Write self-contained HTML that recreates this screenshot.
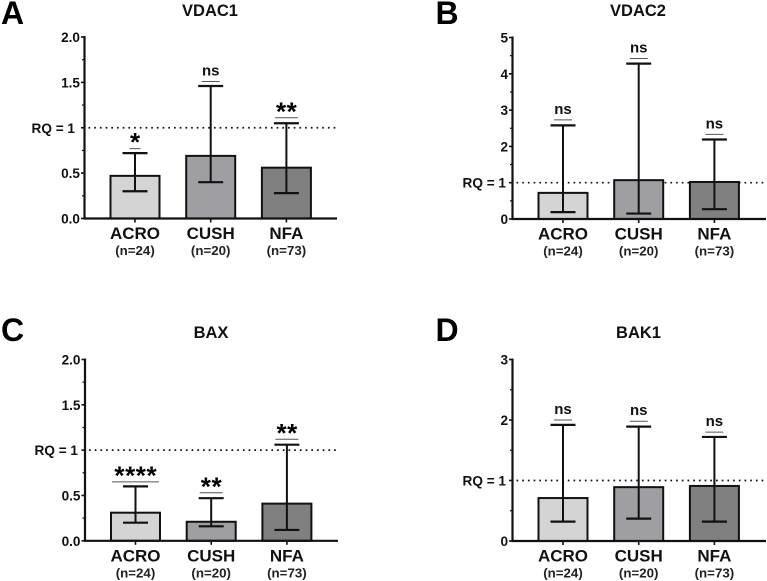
<!DOCTYPE html>
<html lang="en">
<head>
<meta charset="utf-8">
<title>VDAC1, VDAC2, BAX and BAK1 expression</title>
<style>
html,body{margin:0;padding:0;background:#fff;width:767px;height:581px;overflow:hidden}
svg{display:block}
text{font-family:"Liberation Sans",Arial,sans-serif;font-weight:bold;fill:#111}
</style>
</head>
<body>
<svg id="figure" width="767" height="581" viewBox="0 0 767 581" xmlns="http://www.w3.org/2000/svg"></svg>
<script>
const categories = ['ACRO', 'CUSH', 'NFA'];
const sampleSizes = ['(n=24)', '(n=20)', '(n=73)'];

const panelLetters = ['A', 'B', 'C', 'D'];
const panelTitles = ['VDAC1', 'VDAC2', 'BAX', 'BAK1'];

const vdac1Means = [0.47, 0.69, 0.56];
const vdac1Upper = [0.72, 1.46, 1.05];
const vdac1Lower = [0.30, 0.40, 0.28];
const vdac1SigLevel = [0.77, 1.51, 1.11];
const vdac1SigLabels = ['*', 'ns', '**'];
const vdac1TickLabels = ['0.0', '0.5', 'RQ = 1', '1.5', '2.0'];
const vdac1TickValues = [0, 0.5, 1, 1.5, 2];

const vdac2Means = [0.72, 1.07, 1.02];
const vdac2Upper = [2.58, 4.28, 2.19];
const vdac2Lower = [0.19, 0.15, 0.27];
const vdac2SigLevel = [2.73, 4.42, 2.33];
const vdac2SigLabels = ['ns', 'ns', 'ns'];
const vdac2TickLabels = ['0', 'RQ = 1', '2', '3', '4', '5'];
const vdac2TickValues = [0, 1, 2, 3, 4, 5];

const baxMeans = [0.31, 0.21, 0.41];
const baxUpper = [0.60, 0.47, 1.06];
const baxLower = [0.20, 0.16, 0.12];
const baxSigLevel = [0.65, 0.53, 1.12];
const baxSigLabels = ['****', '**', '**'];
const baxTickLabels = ['0.0', '0.5', 'RQ = 1', '1.5', '2.0'];
const baxTickValues = [0, 0.5, 1, 1.5, 2];

const bak1Means = [0.71, 0.89, 0.91];
const bak1Upper = [1.92, 1.89, 1.72];
const bak1Lower = [0.32, 0.37, 0.32];
const bak1SigLevel = [2.00, 1.98, 1.80];
const bak1SigLabels = ['ns', 'ns', 'ns'];
const bak1TickLabels = ['0', 'RQ = 1', '2', '3'];
const bak1TickValues = [0, 1, 2, 3];

const referenceValue = 1;

const NS = 'http://www.w3.org/2000/svg';
const root = document.getElementById('figure');
const barFills = ['#d4d4d4', '#9f9fa3', '#808080'];

function add(parent, tag, attrs, name, content) {
  const el = document.createElementNS(NS, tag);
  for (const k in attrs) el.setAttribute(k, attrs[k]);
  
  
  if (content !== undefined) el.textContent = content;
  parent.appendChild(el);
  return el;
}

function drawPanel(p) {
  const g = add(root, 'g', {}, 'panel-' + p.key);
  const y = v => p.zeroY - (v / p.yMax) * (p.zeroY - p.topY);
  const x = i => p.axisX + p.firstOffset + i * p.step;

  add(g, 'text', {x: p.letterX, y: p.letterY, 'font-size': 32, style: 'fill:#000'}, 'panel-letter-' + p.key, p.letter);
  add(g, 'text', {x: p.titleX, y: p.titleY, 'font-size': 16.5, 'text-anchor': 'middle'}, 'chart-title-' + p.key, p.title);

  // reference line (behind bars)
  add(g, 'line', {x1: p.axisX + 4, x2: p.endX, y1: y(referenceValue), y2: y(referenceValue), stroke: '#111', 'stroke-width': 1.7, 'stroke-dasharray': '1.7 4'}, 'reference-line-rq-1');

  // bars
  p.means.forEach((m, i) => {
    add(g, 'rect', {x: x(i) - 24.5, y: y(m), width: 49, height: p.zeroY - y(m), fill: barFills[i], stroke: '#111', 'stroke-width': 2}, 'bar-' + categories[i].toLowerCase());
  });

  // error bars
  p.means.forEach((m, i) => {
    const cx = x(i);
    const eg = add(g, 'g', {stroke: '#111', 'stroke-width': 2}, 'error-bar-' + categories[i].toLowerCase());
    add(eg, 'line', {x1: cx, x2: cx, y1: y(p.upper[i]), y2: y(p.lower[i])}, 'error-stem');
    add(eg, 'line', {x1: cx - 12.5, x2: cx + 12.5, y1: y(p.upper[i]), y2: y(p.upper[i]), 'stroke-width': 2.2}, 'error-cap-upper');
    add(eg, 'line', {x1: cx - 12.5, x2: cx + 12.5, y1: y(p.lower[i]), y2: y(p.lower[i]), 'stroke-width': 2.2}, 'error-cap-lower');
  });

  // significance annotations
  p.sigLabels.forEach((label, i) => {
    const cx = x(i);
    const ly = y(p.sigLevel[i]);
    const isStars = label[0] === '*';
    const w = isStars ? (label.length === 1 ? 11 : label.length === 2 ? 23 : 47) : 18;
    add(g, 'line', {x1: cx - w / 2, x2: cx + w / 2, y1: ly, y2: ly, stroke: '#555', 'stroke-width': 1}, 'significance-line-' + categories[i].toLowerCase());
    if (isStars) {
      add(g, 'text', {x: cx + 0.3, y: ly + 2.5, 'font-size': 26, 'text-anchor': 'middle', 'letter-spacing': 0.6, style: 'fill:#000'}, 'significance-stars-' + categories[i].toLowerCase(), label);
    } else {
      add(g, 'text', {x: cx, y: ly - 6, 'font-size': 15, 'text-anchor': 'middle'}, 'significance-ns-' + categories[i].toLowerCase(), label);
    }
  });

  // axes
  add(g, 'line', {x1: p.axisX, x2: p.axisX, y1: p.topY - 1, y2: p.zeroY + 1, stroke: '#111', 'stroke-width': 2.2}, 'y-axis');
  add(g, 'line', {x1: p.axisX - 1, x2: p.endX, y1: p.zeroY, y2: p.zeroY, stroke: '#111', 'stroke-width': 2.2}, 'x-axis');

  // y ticks
  p.tickValues.forEach((v, i) => {
    const isReference = p.tickLabels[i].indexOf('RQ') === 0;
    add(g, 'line', {x1: p.axisX - 3.5, x2: p.axisX, y1: y(v), y2: y(v), stroke: '#111', 'stroke-width': 1.6}, 'y-tick');
    add(g, 'text', {x: isReference ? p.axisX - p.rqGap : p.axisX - 4.5, y: y(v) + 5, 'font-size': 13.6, 'text-anchor': 'end'}, 'y-tick-label', p.tickLabels[i]);
    if (i < p.tickValues.length - 1) {
      const mid = (v + p.tickValues[i + 1]) / 2;
      add(g, 'line', {x1: p.axisX - 2.5, x2: p.axisX, y1: y(mid), y2: y(mid), stroke: '#111', 'stroke-width': 1.2}, 'y-minor-tick');
    }
  });

  // x ticks and labels
  categories.forEach((c, i) => {
    add(g, 'line', {x1: x(i), x2: x(i), y1: p.zeroY, y2: p.zeroY + 4, stroke: '#111', 'stroke-width': 1.6}, 'x-tick-' + c.toLowerCase());
    add(g, 'text', {x: x(i), y: p.zeroY + 20.5, 'font-size': 17, 'text-anchor': 'middle'}, 'x-label-' + c.toLowerCase(), c);
    add(g, 'text', {x: x(i), y: p.zeroY + 36.5, 'font-size': 13.3, 'text-anchor': 'middle', style: 'fill:#222'}, 'sample-size-' + c.toLowerCase(), sampleSizes[i]);
  });
}

drawPanel({key: 'a', letter: panelLetters[0], title: panelTitles[0], letterX: 1, letterY: 24, titleX: 210, titleY: 16,
  axisX: 84.5, endX: 337, topY: 37, zeroY: 218.5, yMax: 2, firstOffset: 50.5, step: 75.7, rqGap: 9.5,
  means: vdac1Means, upper: vdac1Upper, lower: vdac1Lower, sigLevel: vdac1SigLevel, sigLabels: vdac1SigLabels,
  tickValues: vdac1TickValues, tickLabels: vdac1TickLabels});

drawPanel({key: 'b', letter: panelLetters[1], title: panelTitles[1], letterX: 435.5, letterY: 24, titleX: 638, titleY: 16,
  axisX: 512.5, endX: 766, topY: 37.5, zeroY: 219, yMax: 5, firstOffset: 50.5, step: 75.7, rqGap: 6.5,
  means: vdac2Means, upper: vdac2Upper, lower: vdac2Lower, sigLevel: vdac2SigLevel, sigLabels: vdac2SigLabels,
  tickValues: vdac2TickValues, tickLabels: vdac2TickLabels});

drawPanel({key: 'c', letter: panelLetters[2], title: panelTitles[2], letterX: 1, letterY: 341, titleX: 211, titleY: 338,
  axisX: 85, endX: 338, topY: 359.5, zeroY: 540.8, yMax: 2, firstOffset: 50.5, step: 75.7, rqGap: 7,
  means: baxMeans, upper: baxUpper, lower: baxLower, sigLevel: baxSigLevel, sigLabels: baxSigLabels,
  tickValues: baxTickValues, tickLabels: baxTickLabels});

drawPanel({key: 'd', letter: panelLetters[3], title: panelTitles[3], letterX: 435.5, letterY: 341, titleX: 638.5, titleY: 338,
  axisX: 512.5, endX: 766, topY: 359.5, zeroY: 541, yMax: 3, firstOffset: 50.5, step: 75.7, rqGap: 6.5,
  means: bak1Means, upper: bak1Upper, lower: bak1Lower, sigLevel: bak1SigLevel, sigLabels: bak1SigLabels,
  tickValues: bak1TickValues, tickLabels: bak1TickLabels});
</script>
</body>
</html>
